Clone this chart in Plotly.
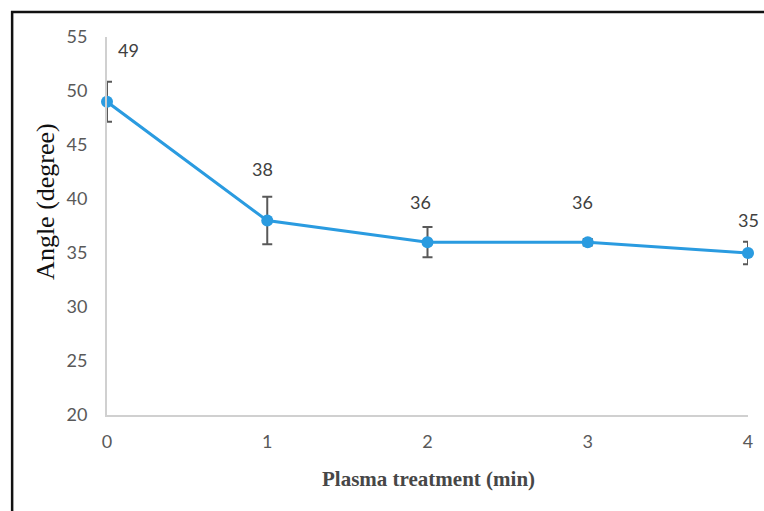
import plotly.graph_objects as go

# Data
times = [0, 1, 2, 3, 4]
angles = [49, 38, 36, 36, 35]
errors = [1.85, 2.2, 1.4, 0.3, 1.05]
x_ticks = [0, 1, 2, 3, 4]
y_ticks = [20, 25, 30, 35, 40, 45, 50, 55]

# label pixel offsets (style)
label_dx = [21, -5, -7, -5, 0]
label_dy = [52, 52, 40, 40, 33]

LINE = "#2a9be0"

fig = go.Figure()
fig.add_trace(go.Scatter(
    x=times, y=angles, mode="lines+markers",
    line=dict(color=LINE, width=3),
    marker=dict(color=LINE, size=12),
    error_y=dict(type="data", array=errors, visible=True,
                 color="#595959", thickness=2, width=5),
    showlegend=False, cliponaxis=False,
))

for x, y, dx, dy in zip(times, angles, label_dx, label_dy):
    fig.add_annotation(x=x, y=y, text=str(y), showarrow=False,
                       xshift=dx, yshift=dy, xanchor="center", yanchor="middle",
                       font=dict(family="Lato", size=18, color="#404040"))

# Axis titles
fig.add_annotation(xref="paper", yref="paper", x=0.502, y=-0.168,
                   xanchor="center", yanchor="middle",
                   text="<b>Plasma treatment (min)</b>", showarrow=False,
                   font=dict(family="Liberation Serif", size=21, color="#474747"))
fig.add_annotation(xref="paper", yref="paper", x=-0.097, y=0.566,
                   xanchor="center", yanchor="middle",
                   text="Angle (degree)", showarrow=False, textangle=-90,
                   font=dict(family="Liberation Serif", size=26, color="#111111"))

# Outer frame (cropped figure border)
fig.add_shape(type="rect", xref="paper", yref="paper",
              x0=-0.148, x1=1.05, y0=-0.3, y1=1.066,
              line=dict(color="#111111", width=2.5), layer="above")

fig.update_layout(
    width=764, height=511,
    margin=dict(l=107, r=16, t=37, b=96),
    paper_bgcolor="white", plot_bgcolor="white",
    xaxis=dict(range=[0, 4], tickvals=x_ticks, showgrid=False, zeroline=False,
               showline=True, linecolor="#d0d0d0", linewidth=2, ticks="",
               ticklabelstandoff=9,
               tickfont=dict(family="Lato", size=18, color="#595959")),
    yaxis=dict(range=[20, 55], tickvals=y_ticks, showgrid=False, zeroline=False,
               showline=True, linecolor="#d0d0d0", linewidth=2, ticks="",
               ticklabelstandoff=14,
               tickfont=dict(family="Lato", size=18, color="#595959")),
)

fig.write_html("out.html", config={"displayModeBar": False},
               post_script="document.body.style.margin='0';document.body.style.overflow='hidden';")
